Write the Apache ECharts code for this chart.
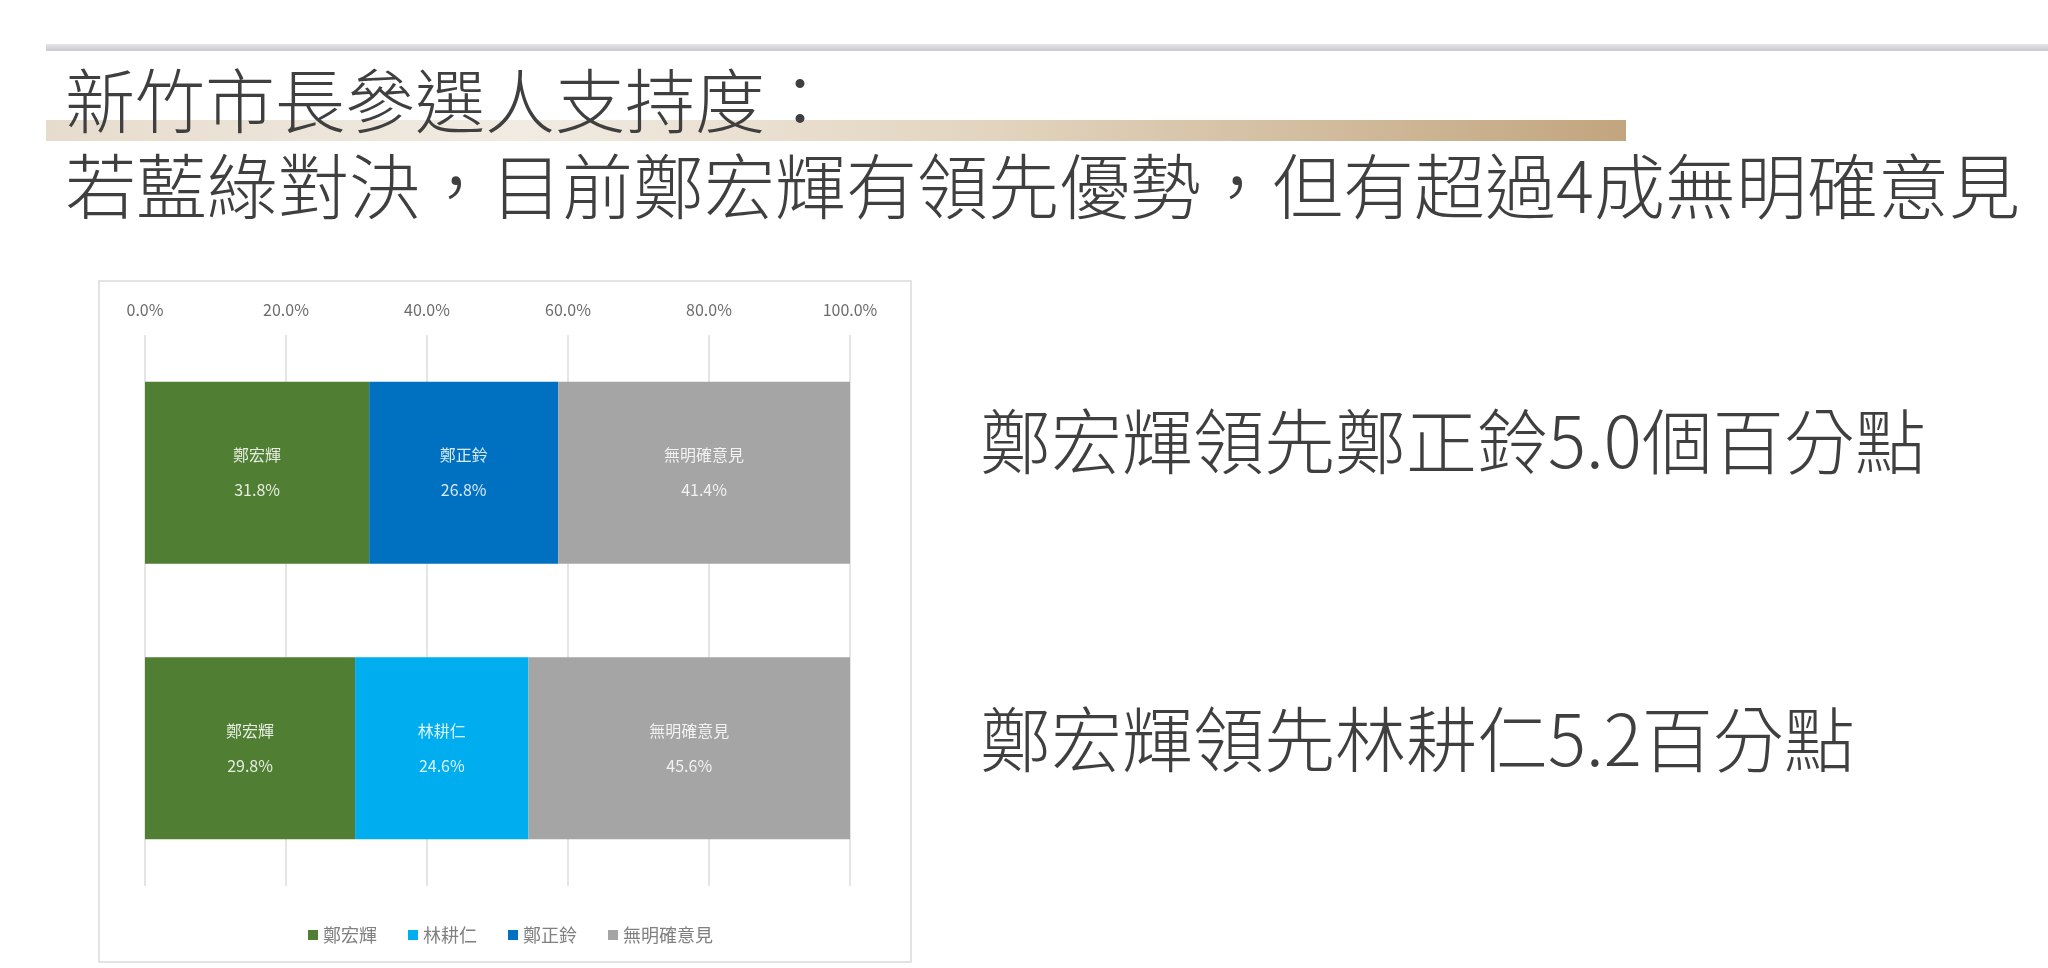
<!DOCTYPE html>
<html>
<head>
<meta charset="utf-8">
<title>新竹市長參選人支持度</title>
<script src="https://cdn.jsdelivr.net/npm/echarts@6/dist/echarts.min.js"></script>
<style>
  html, body { margin: 0; padding: 0; background: #fff; }
  #chart { width: 2048px; height: 968px; }
</style>
</head>
<body>
<div id="chart"></div>
<script>
// matchups, top to bottom
const matchups = ['鄭宏輝 vs 鄭正鈴', '鄭宏輝 vs 林耕仁'];
// series values (%), '-' where the candidate is not in that matchup
const cheng = [31.8, 29.8];      // 鄭宏輝
const lin = ['-', 24.6];         // 林耕仁
const zheng = [26.8, '-'];       // 鄭正鈴
const undecided = [41.4, 45.6];  // 無明確意見
const seriesNames = ['鄭宏輝', '林耕仁', '鄭正鈴', '無明確意見'];
const seriesColors = ['#507e32', '#00adee', '#0070c0', '#a5a5a5'];
const axisTicks = [0, 20, 40, 60, 80, 100];

const chart = echarts.init(document.getElementById('chart'));
const FONT = '"Noto Sans CJK TC", "Noto Sans", sans-serif';

function barSeries(name, values, color) {
    return {
        name: name,
        type: 'bar',
        stack: 'total',
        data: values,
        barCategoryGap: '34%',
        itemStyle: { color: color },
        label: {
            show: true,
            position: 'inside',
            formatter: p => p.seriesName + '\n' + p.value.toFixed(1) + '%',
            color: 'rgba(255,255,255,0.85)',
            fontFamily: FONT,
            fontSize: 16,
            lineHeight: 35
        },
        emphasis: { disabled: true }
    };
}

chart.setOption({
    animation: false,
    backgroundColor: '#fff',
    graphic: [
        // top rule
        { type: 'rect', shape: { x: 46, y: 44, width: 2002, height: 7 },
          style: { fill: new echarts.graphic.LinearGradient(0, 0, 0, 1, [
              { offset: 0, color: '#e4e4e8' }, { offset: 1, color: '#c9c9ce' }]) }, z: 0 },
        // tan band under the first title line
        { type: 'rect', shape: { x: 46, y: 120, width: 1580, height: 21 },
          style: { fill: new echarts.graphic.LinearGradient(0, 0, 1, 0, [
              { offset: 0, color: '#e6dccd' },
              { offset: 0.3, color: '#f1ebe2' },
              { offset: 0.6, color: '#e2d4bf' },
              { offset: 1, color: '#c2a57e' }]) }, z: 0 },
        { type: 'text', left: 65, top: 66, z: 5,
          style: { text: '新竹市長參選人支持度：', font: '300 70px ' + FONT, fill: '#3f3f3f' } },
        { type: 'text', left: 65, top: 151, z: 5,
          style: { text: '若藍綠對決，目前鄭宏輝有領先優勢，但有超過4成無明確意見', font: '300 71px ' + FONT, fill: '#3f3f3f' } },
        // chart frame
        { type: 'rect', shape: { x: 99, y: 281, width: 812, height: 681 },
          style: { fill: '#fff', stroke: '#dadada', lineWidth: 1.5 }, z: -1 },
        // side notes
        { type: 'text', left: 980, top: 406, z: 5,
          style: { text: '鄭宏輝領先鄭正鈴5.0個百分點', font: '300 71px ' + FONT, fill: '#3f3f3f' } },
        { type: 'text', left: 980, top: 704, z: 5,
          style: { text: '鄭宏輝領先林耕仁5.2百分點', font: '300 71px ' + FONT, fill: '#3f3f3f' } }
    ],
    legend: {
        data: seriesNames,
        left: 303,
        top: 921,
        itemWidth: 10,
        itemHeight: 10,
        itemGap: 31,
        icon: 'rect',
        textStyle: { fontFamily: FONT, fontSize: 18, color: '#808080', padding: [0, 0, 0, 0] },
        selectedMode: false
    },
    grid: { left: 145, right: 1198, top: 335, bottom: 82 },
    xAxis: {
        type: 'value',
        position: 'top',
        min: axisTicks[0],
        max: axisTicks[axisTicks.length - 1],
        interval: axisTicks[1] - axisTicks[0],
        axisLine: { show: false },
        axisTick: { show: false },
        axisLabel: {
            formatter: v => v.toFixed(1) + '%',
            color: '#6b6b6b',
            fontFamily: FONT,
            fontSize: 16,
            margin: 17
        },
        splitLine: { lineStyle: { color: '#dcdcdc', width: 1.5 } }
    },
    yAxis: {
        type: 'category',
        data: matchups,
        inverse: true,
        show: false
    },
    series: [
        barSeries(seriesNames[0], cheng, seriesColors[0]),
        barSeries(seriesNames[1], lin, seriesColors[1]),
        barSeries(seriesNames[2], zheng, seriesColors[2]),
        barSeries(seriesNames[3], undecided, seriesColors[3])
    ]
});
</script>
</body>
</html>
